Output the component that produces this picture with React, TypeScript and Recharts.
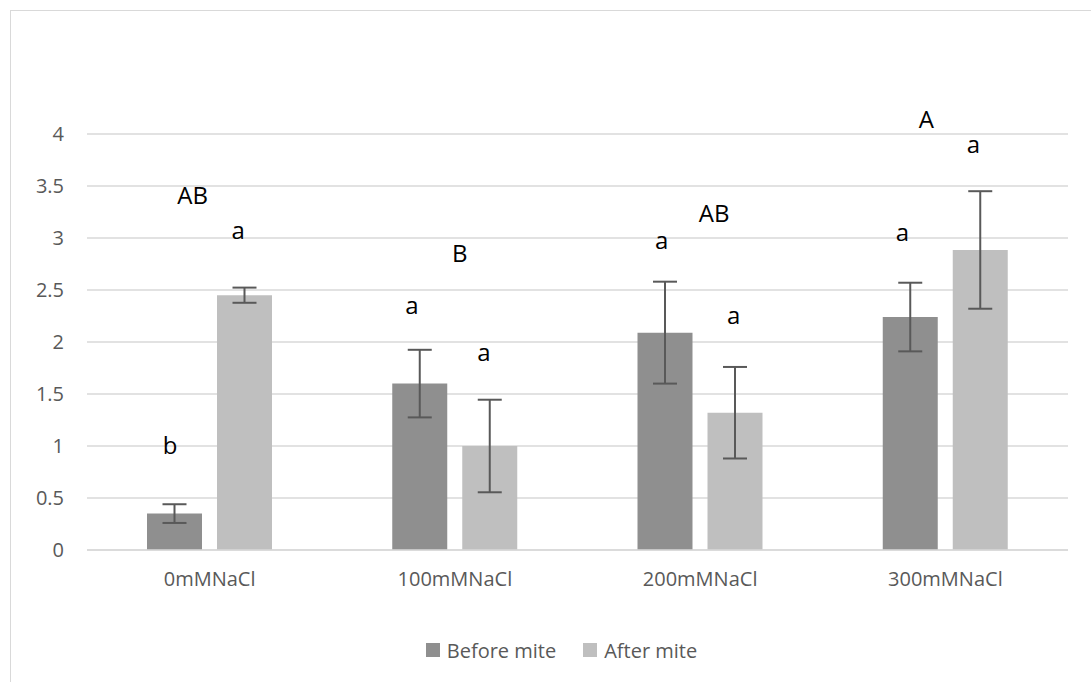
import {
  Bar,
  BarChart,
  CartesianGrid,
  ErrorBar,
  Legend,
  ReferenceDot,
  XAxis,
  YAxis,
} from 'recharts';

const categories = ['0mMNaCl', '100mMNaCl', '200mMNaCl', '300mMNaCl'];
const beforeMite = [0.35, 1.6, 2.09, 2.24];
const beforeErr = [0.09, 0.325, 0.49, 0.33];
const afterMite = [2.45, 1.0, 1.32, 2.885];
const afterErr = [0.073, 0.445, 0.44, 0.565];
const yTicks = [0, 0.5, 1, 1.5, 2, 2.5, 3, 3.5, 4];

// significance letters
const beforeLetters = ['b', 'a', 'a', 'a'];
const afterLetters = ['a', 'a', 'a', 'a'];
const groupLetters = ['AB', 'B', 'AB', 'A'];

// where the letters sit (baseline, in axis units) and their pixel nudge from the band centre
const beforeLetterY = [0.92, 2.27, 2.89, 2.97];
const afterLetterY = [2.99, 1.82, 2.17, 3.82];
const groupLetterY = [3.33, 2.77, 3.15, 4.055];
const beforeLetterDx = [-39.5, -43, -38.5, -43];
const afterLetterDx = [28.5, 29, 33.5, 28];
const groupLetterDx = [-17, 5, 14, -19];

const FONT = '"Open Sans", sans-serif';
const BEFORE = '#8f8f8f';
const AFTER = '#bfbfbf';

const data = categories.map((c, i) => ({
  name: c,
  before: beforeMite[i],
  beforeErr: beforeErr[i],
  after: afterMite[i],
  afterErr: afterErr[i],
}));

const letterShape = (text: string, dx: number) => (p: any) => (
  <text
    x={p.cx + dx}
    y={p.cy}
    textAnchor="middle"
    fontFamily={FONT}
    fontSize={24}
    fill="#000"
  >
    {text}
  </text>
);

const LegendBox = () => (
  <div
    style={{
      display: 'flex',
      justifyContent: 'center',
      alignItems: 'center',
      height: 28,
      paddingLeft: 32,
      fontFamily: FONT,
      fontSize: 20,
      color: '#595959',
    }}
  >
    {[
      { label: 'Before mite', cor: BEFORE },
      { label: 'After mite', cor: AFTER },
    ].map((s, i) => (
      <div key={s.label} style={{ display: 'flex', alignItems: 'center', marginLeft: i ? 27 : 0 }}>
        <span style={{ width: 14, height: 14, background: s.cor, marginRight: 7 }} />
        <span>{s.label}</span>
      </div>
    ))}
  </div>
);

export default function App() {
  return (
    <div style={{ position: 'relative', width: 1091, height: 682, overflow: 'hidden', background: '#fff' }}>
      <style>{'body{margin:0}'}</style>
      <div
        style={{
          position: 'absolute',
          left: 10,
          top: 10,
          width: 1200,
          height: 800,
          border: '1px solid #d9d9d9',
        }}
      />
      <div style={{ position: 'absolute', left: 0, top: 0 }}>
        <BarChart
          width={1091}
          height={682}
          data={data}
          margin={{ top: 134, right: 23, left: 0, bottom: 74 }}
          barSize={55}
          barGap={15}
        >
          <CartesianGrid vertical={false} stroke="#d9d9d9" strokeWidth={1.3} />
          <XAxis
            dataKey="name"
            stroke="#d9d9d9"
            strokeWidth={1.5}
            tickLine={false}
            tickSize={0}
            tickMargin={22}
            tick={{ fill: '#595959', fontSize: 20, fontFamily: FONT }}
          />
          <YAxis
            width={87}
            domain={[0, 4]}
            ticks={yTicks}
            axisLine={false}
            tickLine={false}
            tickSize={0}
            tickMargin={23}
            tick={{ fill: '#595959', fontSize: 20, fontFamily: FONT }}
          />
          <Legend
            verticalAlign="bottom"
            content={LegendBox}
            wrapperStyle={{ left: 0, width: 1091, bottom: 18 }}
          />
          <Bar dataKey="before" name="Before mite" fill={BEFORE} isAnimationActive={false}>
            <ErrorBar dataKey="beforeErr" width={12} stroke="#595959" strokeWidth={2} />
          </Bar>
          <Bar dataKey="after" name="After mite" fill={AFTER} isAnimationActive={false}>
            <ErrorBar dataKey="afterErr" width={12} stroke="#595959" strokeWidth={2} />
          </Bar>
          {categories.map((c, i) => (
            <ReferenceDot
              key={'b' + c}
              x={c}
              y={beforeLetterY[i]}
              ifOverflow="visible"
              shape={letterShape(beforeLetters[i], beforeLetterDx[i])}
            />
          ))}
          {categories.map((c, i) => (
            <ReferenceDot
              key={'a' + c}
              x={c}
              y={afterLetterY[i]}
              ifOverflow="visible"
              shape={letterShape(afterLetters[i], afterLetterDx[i])}
            />
          ))}
          {categories.map((c, i) => (
            <ReferenceDot
              key={'g' + c}
              x={c}
              y={groupLetterY[i]}
              ifOverflow="visible"
              shape={letterShape(groupLetters[i], groupLetterDx[i])}
            />
          ))}
        </BarChart>
      </div>
    </div>
  );
}
